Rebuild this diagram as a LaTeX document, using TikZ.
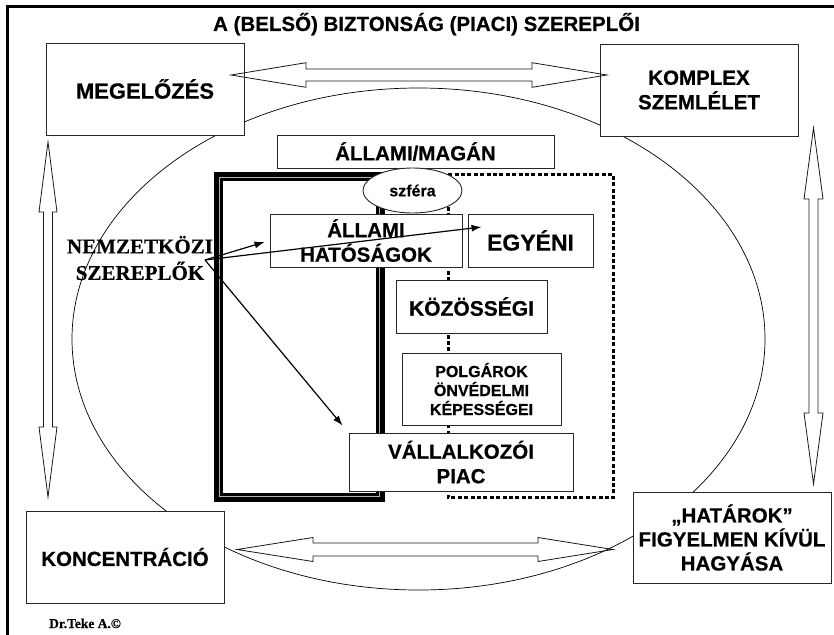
\documentclass[tikz,border=0pt]{standalone}
\usepackage{fontspec}
\setmainfont{Liberation Sans}[BoldFeatures={FakeBold=0.5}]
\newfontfamily\serifb{Liberation Serif}[BoldFeatures={FakeBold=0.4}]
\usetikzlibrary{arrows.meta,shapes.geometric,calc}
\begin{document}
\begin{tikzpicture}[x=1pt,y=-1pt,
  box/.style={draw=black!85, line width=0.9pt, fill=white, inner sep=0pt, align=center,
    font=\bfseries\fontsize{20.5}{24.5}\selectfont},
  hollow/.style={draw=black!90, line width=0.8pt, line join=miter},
  pointer/.style={draw=black, line width=1.2pt, -{Latex[length=10pt,width=7pt]}},
]
\useasboundingbox (0,0) rectangle (834,634);
\begin{scope}
\clip (0,0) rectangle (834,634);
\draw[line width=2.5pt, line join=miter] (7.5,700) -- (7.5,6.5) -- (900,6.5);
\end{scope}

% big ellipse
\draw[line width=0.7pt] (418.5,339) ellipse [x radius=346.5pt, y radius=251pt];

% thick framed region (state)
\draw[line width=9pt, line join=miter] (218.5,176.5) rectangle (380.5,497.5);
\draw[white!70!black, line width=0.7pt] (219.3,177.3) rectangle (379.7,496.7);

% dotted region (private)
\draw[line width=3.3pt, dash pattern=on 4pt off 2.4pt] (448.3,174.5) rectangle (613.3,497.8);

% title
\node[font=\bfseries\fontsize{20.5}{24}\selectfont, anchor=base, inner sep=0pt] (title) at (426.5,31) {A (BELSŐ) BIZTONSÁG (PIACI) SZEREPLŐI};

% corner boxes
\node[box, minimum width=198pt, minimum height=92pt, font=\bfseries\fontsize{22}{26}\selectfont] (meg) at (145,89) {MEGELŐZÉS};
\node[box, minimum width=198pt, minimum height=92pt] (kom) at (699,90) {KOMPLEX\\SZEMLÉLET};
\node[box, minimum width=198pt, minimum height=92pt] (kon) at (125,557) {KONCENTRÁCIÓ};
\node[box, minimum width=198pt, minimum height=91pt, font=\bfseries\fontsize{20.5}{24}\selectfont] (hat) at (732,537.5) {„HATÁROK”\\FIGYELMEN KÍVÜL\\HAGYÁSA};

% inner boxes
\node[box, minimum width=277pt, minimum height=33pt] (allmag) at (415.5,151.5) {ÁLLAMI/MAGÁN};
\node[draw=black!85, line width=0.9pt, fill=white, ellipse, inner sep=0pt, minimum width=99pt, minimum height=45pt,
  font=\bfseries\fontsize{16}{19}\selectfont] (szf) at (412.5,190.5) {szféra};
\node[box, minimum width=192pt, minimum height=53pt] (allhat) at (366,240.5) {ÁLLAMI\\HATÓSÁGOK};
\node[box, minimum width=125pt, minimum height=53pt, font=\bfseries\fontsize{23}{27}\selectfont] (egy) at (530.5,240.5) {EGYÉNI};
\node[box, minimum width=151pt, minimum height=53pt, font=\bfseries\fontsize{21}{25}\selectfont] (koz) at (471.5,306.5) {KÖZÖSSÉGI};
\node[box, minimum width=159pt, minimum height=72pt, font=\bfseries\fontsize{16}{19}\selectfont] (polg) at (481.5,389) {POLGÁROK\\ÖNVÉDELMI\\KÉPESSÉGEI};
\node[box, minimum width=224pt, minimum height=58pt] (vall) at (461,462) {VÁLLALKOZÓI\\PIAC};

% hollow double arrows
\draw[hollow] (231,75) -- (306,62.7) -- (306,69) -- (532,69) -- (532,62.7) -- (607,75)
  -- (532,87.3) -- (532,81) -- (306,81) -- (306,87.3) -- cycle;
\draw[hollow] (237,549.5) -- (313,537.5) -- (313,543) -- (538,543) -- (538,537.5) -- (613,549.5)
  -- (538,561.5) -- (538,556) -- (313,556) -- (313,561.5) -- cycle;
\draw[hollow] (48,142) -- (57,212) -- (52.5,212) -- (52.5,427) -- (57,427) -- (48,497)
  -- (39,427) -- (43.5,427) -- (43.5,212) -- (39,212) -- cycle;
\draw[hollow] (813.5,128) -- (823,199) -- (818,199) -- (818,413) -- (823,413) -- (813.5,484)
  -- (804,413) -- (809,413) -- (809,199) -- (804,199) -- cycle;

% international actors
\node[font=\serifb\bfseries\fontsize{21}{26.5}\selectfont, align=center, inner sep=0pt] (nemz) at (140,258) {NEMZETKÖZI\\SZEREPLŐK};
\coordinate (nz) at (205,260);
\draw[pointer] (nz) -- ($(allhat.west)+(-5,1.5)$);
\draw[pointer] (nz) -- ($(egy.west)+(14,-13.5)$);
\draw[pointer] (nz) -- ($(vall.north west)+(-6,-7)$);

\node[font=\serifb\bfseries\fontsize{13.5}{16}\selectfont, anchor=base west, inner sep=0pt] (cr) at (49,628) {Dr.Teke A.©};
\end{tikzpicture}
\end{document}
